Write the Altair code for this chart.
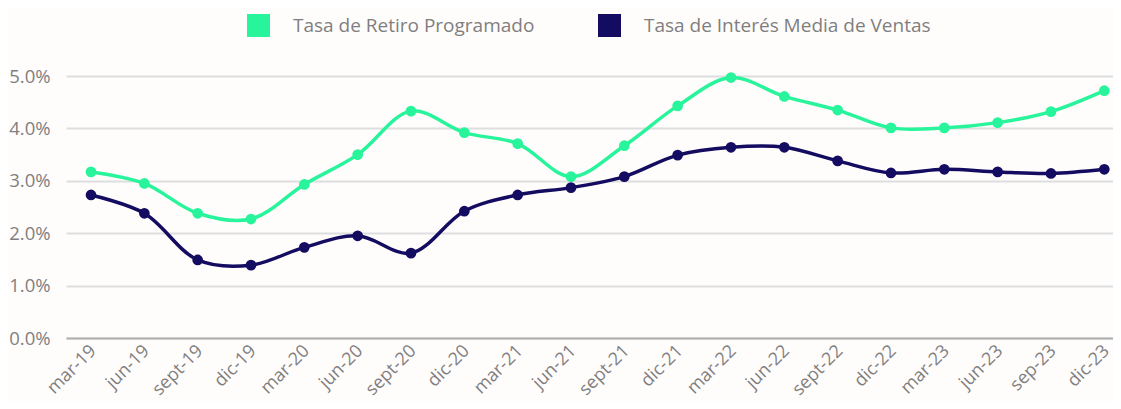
import altair as alt
import pandas as pd

periods = ["mar-19", "jun-19", "sept-19", "dic-19", "mar-20", "jun-20", "sept-20", "dic-20",
           "mar-21", "jun-21", "sept-21", "dic-21", "mar-22", "jun-22", "sept-22", "dic-22",
           "mar-23", "jun-23", "sep-23", "dic-23"]
retiro = [3.17, 2.95, 2.38, 2.27, 2.93, 3.50, 4.33, 3.92, 3.71, 3.08, 3.67, 4.43,
          4.97, 4.61, 4.35, 4.01, 4.01, 4.11, 4.32, 4.72]
interes = [2.73, 2.38, 1.49, 1.39, 1.73, 1.95, 1.62, 2.42, 2.73, 2.87, 3.08, 3.49,
           3.64, 3.64, 3.38, 3.15, 3.22, 3.17, 3.14, 3.22]
series_names = ["Tasa de Retiro Programado", "Tasa de Interés Media de Ventas"]
series_colors = ["#28f59b", "#130c60"]

rows = []
for i, p in enumerate(periods):
    rows.append({"periodo": p, "serie": series_names[0], "valor": retiro[i]})
    rows.append({"periodo": p, "serie": series_names[1], "valor": interes[i]})
df = pd.DataFrame(rows)

FONT = "Open Sans"
GREY = "#7f7f7f"
AX_FS = 18

x = alt.X("periodo:N", sort=periods, title=None,
          scale=alt.Scale(type="point", padding=0.316, align=0.742),
          axis=alt.Axis(labelAngle=-45, labelAlign="right", labelBaseline="middle",
                        labelPadding=10, labelOffset=2, labelFontSize=AX_FS, labelColor=GREY,
                        labelFont=FONT, ticks=False, domain=True, domainColor="#b0b0b0",
                        domainWidth=2, grid=False))
y = alt.Y("valor:Q", title=None,
          scale=alt.Scale(domain=[0, 5], nice=False),
          axis=alt.Axis(values=[0, 1, 2, 3, 4, 5],
                        labelExpr="format(datum.value, '.1f') + '%'",
                        labelFontSize=18.5, labelColor=GREY, labelFont=FONT,
                        labelPadding=16, ticks=False, domain=False,
                        grid=True, gridColor="#dedede", gridWidth=2))
color = alt.Color("serie:N", sort=series_names,
                  scale=alt.Scale(domain=series_names, range=series_colors),
                  legend=alt.Legend(title=None, orient="none", direction="horizontal",
                                    legendX=181, legendY=-62, symbolType="square",
                                    symbolSize=529, symbolStrokeWidth=0, symbolOpacity=1,
                                    labelFontSize=19, labelColor=GREY, labelFont=FONT,
                                    labelOffset=23, columnPadding=63, labelLimit=400))

base = alt.Chart(df)
lines = base.mark_line(interpolate="catmull-rom", strokeWidth=3.5).encode(x=x, y=y, color=color)
pts = base.mark_circle(size=115, opacity=1).encode(
    x=x, y=y,
    color=alt.Color("serie:N", scale=alt.Scale(domain=series_names, range=series_colors), legend=None))

chart = (lines + pts).properties(
    width=1047, height=262,
    autosize=alt.AutoSizeParams(type="none"),
    padding={"left": 58, "top": 68, "right": 0, "bottom": 63},
    background="#fffcfc",
).configure_view(stroke=None)

chart.save("out.html", embed_options={"renderer": "svg", "actions": False})
